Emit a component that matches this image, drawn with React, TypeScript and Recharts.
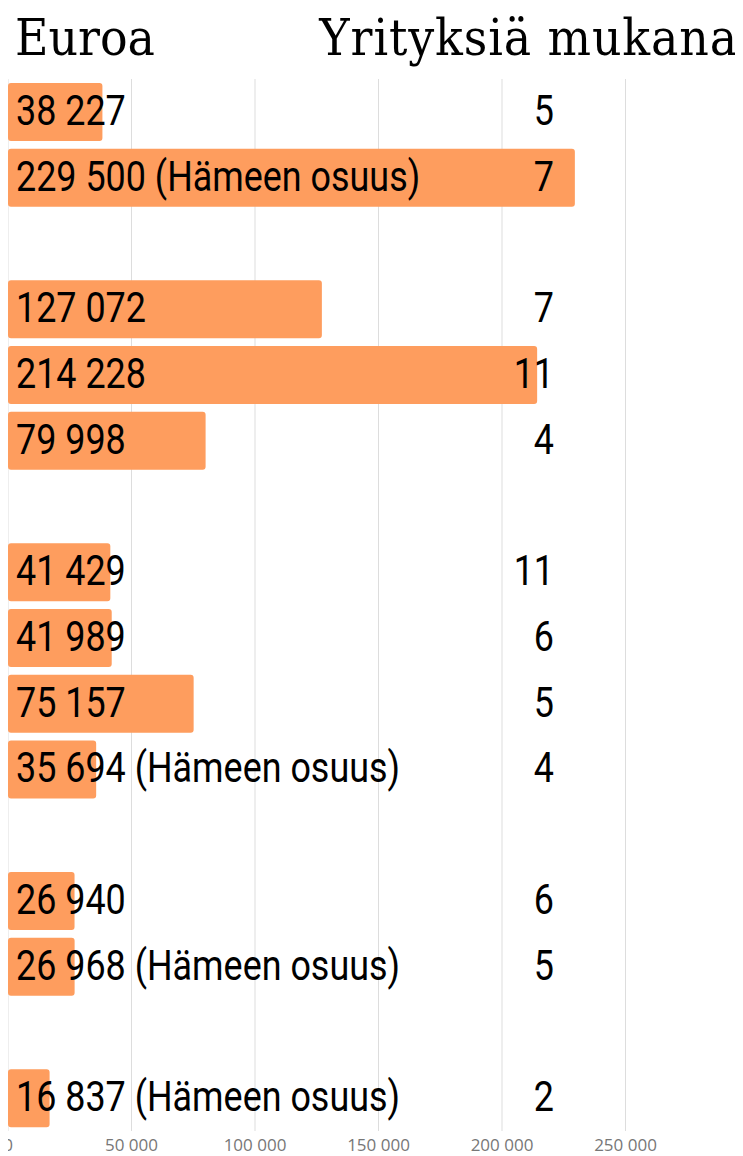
import React from "react";
import { BarChart, Bar, XAxis, YAxis, CartesianGrid, LabelList } from "recharts";

const rowLabels = [
  "38 227",
  "229 500 (Hämeen osuus)",
  "",
  "127 072",
  "214 228",
  "79 998",
  "",
  "41 429",
  "41 989",
  "75 157",
  "35 694 (Hämeen osuus)",
  "",
  "26 940",
  "26 968 (Hämeen osuus)",
  "",
  "16 837 (Hämeen osuus)",
];
const euroValues: (number | null)[] = [
  38227, 229500, null, 127072, 214228, 79998, null, 41429, 41989, 75157, 35694, null, 26940, 26968, null, 16837,
];
const companyCounts: (number | null)[] = [5, 7, null, 7, 11, 4, null, 11, 6, 5, 4, null, 6, 5, null, 2];
const xTicks = [0, 50000, 100000, 150000, 200000, 250000];

const data = rowLabels.map((label, i) => ({
  key: `r${i}`,
  label,
  value: euroValues[i],
  count: companyCounts[i],
}));

const BAR_COLOR = "#fe9d5e";
const LABEL_FONT = "Roboto, 'Liberation Sans', sans-serif";
const SQUEEZE = 0.855;

const fmt = (v: number) => String(v).replace(/\B(?=(\d{3})+(?!\d))/g, " ");

const SqueezedText = ({ x, y, anchor, children }: any) => (
  <text
    x={0}
    y={0}
    transform={`translate(${x},${y}) scale(${SQUEEZE},1)`}
    dominantBaseline="central"
    textAnchor={anchor}
    fontFamily={LABEL_FONT}
    fontSize={42}
    fill="#000"
  >
    {children}
  </text>
);

const ValueLabel = (props: any) => {
  const { x, y, height, value } = props;
  if (value == null || value === "") return null;
  return (
    <SqueezedText x={x + 8} y={y + height / 2 - 1} anchor="start">
      {value}
    </SqueezedText>
  );
};

const CountLabel = (props: any) => {
  const { x, y, height, value } = props;
  if (value == null) return null;
  return (
    <SqueezedText x={x + 546} y={y + height / 2 - 1} anchor="end">
      {value}
    </SqueezedText>
  );
};

const headerStyle: React.CSSProperties = {
  position: "absolute",
  top: 8,
  fontFamily: "'DejaVu Serif Condensed', 'DejaVu Serif', serif",
  fontSize: 51,
  lineHeight: "60px",
  color: "#000",
  whiteSpace: "nowrap",
};

export default function App() {
  return (
    <div style={{ position: "relative", width: 743, height: 1156, marginLeft: -8, marginTop: -8, overflow: "hidden", background: "#fff" }}>
      <div style={{ ...headerStyle, left: 15 }}>Euroa</div>
      <div style={{ ...headerStyle, right: 5, letterSpacing: 0.9 }}>Yrityksiä mukana</div>
      <BarChart
        width={749}
        height={1156}
        data={data}
        layout="vertical"
        margin={{ top: 79, right: 0, bottom: 0, left: 8 }}
        barSize={58}
      >
        <CartesianGrid horizontal={false} stroke="#dddddd" />
        <XAxis
          type="number"
          domain={[0, 300000]}
          ticks={xTicks}
          axisLine={false}
          tickLine={false}
          height={25}
          tickMargin={2}
          tickFormatter={fmt}
          tick={{ fontFamily: "'Open Sans', sans-serif", fontSize: 17, fill: "#777" }}
          interval={0}
        />
        <YAxis type="category" dataKey="key" hide />
        <Bar dataKey="value" fill={BAR_COLOR} radius={3} isAnimationActive={false}>
          <LabelList dataKey="label" content={ValueLabel} />
          <LabelList dataKey="count" content={CountLabel} />
        </Bar>
      </BarChart>
    </div>
  );
}
